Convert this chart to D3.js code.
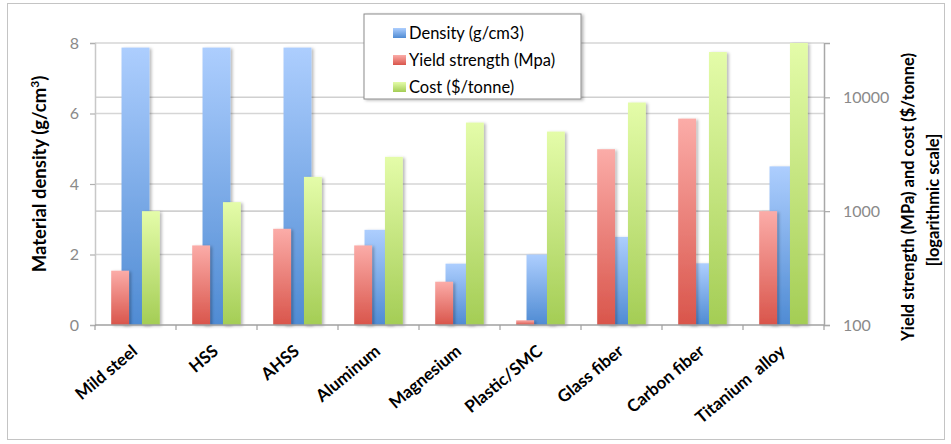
<!DOCTYPE html>
<html>
<head>
<meta charset="utf-8">
<script src="https://cdn.jsdelivr.net/npm/d3@7"></script>
<style>
  body { margin: 0; background: #fff; }
  svg { display: block; font-family: Lato, "Open Sans", sans-serif; }
</style>
</head>
<body>
<svg id="chart" width="951" height="444"></svg>
<script>
// data
const categories = ['Mild steel', 'HSS', 'AHSS', 'Aluminum', 'Magnesium', 'Plastic/SMC', 'Glass fiber', 'Carbon fiber', 'Titanium  alloy'];
const density = [7.87, 7.87, 7.87, 2.7, 1.74, 2.0, 2.5, 1.75, 4.5];
const yieldStrength = [300, 500, 700, 500, 240, 110, 3500, 6500, 1000];
const cost = [1000, 1200, 2000, 3000, 6000, 5000, 9000, 25000, 30000];
const densityTicks = [0, 2, 4, 6, 8];
const logTicks = [100, 1000, 10000];
const legendLabels = ['Density (g/cm3)', 'Yield strength (Mpa)', 'Cost ($/tonne)'];

// layout
const margins = { left: 95, right: 127, top: 43, bottom: 119 };
const width = 951, height = 444;
const plotBottom = height - margins.bottom;
const plotRight = width - margins.right;

const svg = d3.select('#chart');
const defs = svg.append('defs');

// gradients for the three series
const gradients = [
    { id: 'grad-blue', top: '#adcefe', bottom: '#4f8bd3' },
    { id: 'grad-red', top: '#fbaca8', bottom: '#d9554b' },
    { id: 'grad-green', top: '#e4fca9', bottom: '#a4cd55' }
];
gradients.forEach(g => {
    const lg = defs.append('linearGradient')
        .attr('id', g.id)
        .attr('x1', 0).attr('y1', 0).attr('x2', 0).attr('y2', 1);
    lg.append('stop').attr('offset', '0%').attr('stop-color', g.top);
    lg.append('stop').attr('offset', '100%').attr('stop-color', g.bottom);
});

const shadow = defs.append('filter').attr('id', 'shadow')
    .attr('x', '-20%').attr('y', '-5%').attr('width', '150%').attr('height', '115%');
shadow.append('feDropShadow')
    .attr('dx', 2).attr('dy', 1).attr('stdDeviation', 1.4)
    .attr('flood-color', '#000').attr('flood-opacity', 0.28);

// outer chart border
svg.append('rect')
    .attr('x', 7.5).attr('y', 3.5)
    .attr('width', 937).attr('height', 436)
    .attr('fill', 'none')
    .attr('stroke', '#c4c4c4');

// scales
const x = d3.scaleBand()
    .domain(categories)
    .range([margins.left, plotRight])
    .padding(0);

const yLeft = d3.scaleLinear()
    .domain([0, 8])
    .range([plotBottom, margins.top]);

const yRight = d3.scaleLog()
    .domain([100, 30000])
    .range([plotBottom, margins.top]);

// secondary series sit left/right of the category centre
const xSec = d3.scaleBand()
    .domain(['yield', 'cost'])
    .range([x.bandwidth() * 0.2, x.bandwidth() * 0.8])
    .paddingInner(0.42);

const densityWidth = x.bandwidth() * 0.345;

// gridlines
const grid = svg.append('g').attr('class', 'grid');
grid.selectAll('.grid-left')
    .data(densityTicks.filter(d => d > 0))
    .join('line')
    .attr('x1', margins.left).attr('x2', plotRight)
    .attr('y1', d => yLeft(d)).attr('y2', d => yLeft(d))
    .attr('stroke', '#d6d6d6').attr('stroke-width', 1.6);
grid.selectAll('.grid-right')
    .data(logTicks.filter(d => d > 100))
    .join('line')
    .attr('x1', margins.left).attr('x2', plotRight)
    .attr('y1', d => yRight(d)).attr('y2', d => yRight(d))
    .attr('stroke', '#d0d0d0').attr('stroke-width', 1.6);

// density bars (primary axis)
svg.append('g')
    .selectAll('rect')
    .data(density)
    .join('rect')
    .attr('x', (d, i) => x(categories[i]) + (x.bandwidth() - densityWidth) / 2)
    .attr('width', densityWidth)
    .attr('y', d => yLeft(d))
    .attr('height', d => plotBottom - yLeft(d))
    .attr('fill', 'url(#grad-blue)')
    .attr('filter', 'url(#shadow)');

// yield strength and cost bars (secondary log axis)
const secondary = [
    { key: 'yield', values: yieldStrength, fill: 'url(#grad-red)' },
    { key: 'cost', values: cost, fill: 'url(#grad-green)' }
];
secondary.forEach(s => {
    svg.append('g')
        .selectAll('rect')
        .data(s.values)
        .join('rect')
        .attr('x', (d, i) => x(categories[i]) + xSec(s.key))
        .attr('width', xSec.bandwidth())
        .attr('y', d => yRight(d))
        .attr('height', d => plotBottom - yRight(d))
        .attr('fill', s.fill)
        .attr('filter', 'url(#shadow)');
});

// left axis
const leftAxis = svg.append('g')
    .attr('transform', `translate(${margins.left}, 0)`)
    .call(d3.axisLeft(yLeft).tickValues(densityTicks).tickSize(5).tickPadding(11));
leftAxis.select('.domain').attr('stroke', '#c8c8c8').attr('stroke-width', 1.5);
leftAxis.selectAll('.tick line').attr('stroke', '#b0b0b0').attr('stroke-width', 1.2);
leftAxis.selectAll('.tick text')
    .attr('fill', '#8a8a8a')
    .attr('font-size', 16)
    .attr('font-family', 'Lato, sans-serif');

// right axis
const rightAxis = svg.append('g')
    .attr('transform', `translate(${plotRight}, 0)`)
    .call(d3.axisRight(yRight).tickValues(logTicks).tickFormat(d3.format('d')).tickSize(6).tickPadding(13));
rightAxis.select('.domain').attr('stroke', '#a8a8a8').attr('stroke-width', 1.5);
rightAxis.selectAll('.tick line').attr('stroke', '#a8a8a8').attr('stroke-width', 1.2);
rightAxis.selectAll('.tick text')
    .attr('fill', '#8a8a8a')
    .attr('font-size', 16)
    .attr('font-family', 'Lato, sans-serif');

// bottom axis with ticks at category boundaries
const bottom = svg.append('g');
bottom.append('line')
    .attr('x1', margins.left).attr('x2', plotRight)
    .attr('y1', plotBottom).attr('y2', plotBottom)
    .attr('stroke', '#a0a0a0').attr('stroke-width', 1.6);
bottom.selectAll('.cat-tick')
    .data(categories)
    .join('line')
    .attr('x1', d => x(d)).attr('x2', d => x(d))
    .attr('y1', plotBottom).attr('y2', plotBottom + 5)
    .attr('stroke', '#a0a0a0').attr('stroke-width', 1.2);
bottom.append('line')
    .attr('x1', plotRight).attr('x2', plotRight)
    .attr('y1', plotBottom).attr('y2', plotBottom + 5)
    .attr('stroke', '#a0a0a0').attr('stroke-width', 1.2);
bottom.selectAll('.cat-label')
    .data(categories)
    .join('text')
    .attr('transform', d => `translate(${x(d) + x.bandwidth() / 2 + 3}, ${plotBottom + 28})rotate(-40)`)
    .attr('text-anchor', 'end')
    .attr('font-size', 17)
    .attr('font-weight', 'bold')
    .attr('fill', '#000')
    .style('white-space', 'pre')
    .text(d => d);

// axis titles
const leftTitle = svg.append('text')
    .attr('transform', `translate(46, ${(margins.top + plotBottom) / 2 - 10})rotate(-90)`)
    .attr('text-anchor', 'middle')
    .attr('font-size', 18.5)
    .attr('font-weight', 'bold');
leftTitle.append('tspan').text('Material density (g/cm');
leftTitle.append('tspan').attr('font-size', 12).attr('dy', -7).text('3');
leftTitle.append('tspan').attr('dy', 7).text(')');

svg.append('text')
    .attr('transform', `translate(914, 197)rotate(-90)`)
    .attr('text-anchor', 'middle')
    .attr('font-size', 16.5)
    .attr('font-weight', 'bold')
    .text('Yield strength (MPa) and cost ($/tonne)');
svg.append('text')
    .attr('transform', `translate(939, 200)rotate(-90)`)
    .attr('text-anchor', 'middle')
    .attr('font-size', 16.5)
    .attr('font-weight', 'bold')
    .text('[logarithmic scale]');

// legend
const legend = svg.append('g').attr('transform', 'translate(364, 14)');
legend.append('rect')
    .attr('width', 217).attr('height', 85)
    .attr('fill', '#fff')
    .attr('stroke', '#8c8c8c')
    .attr('filter', 'url(#shadow)');
const legendRows = legend.selectAll('.legend-row')
    .data(legendLabels)
    .join('g')
    .attr('transform', (d, i) => `translate(0, ${19 + i * 27})`);
legendRows.append('rect')
    .attr('x', 29).attr('y', -5)
    .attr('width', 13).attr('height', 10)
    .attr('fill', (d, i) => `url(#${gradients[i].id})`);
legendRows.append('text')
    .attr('x', 45).attr('y', 6)
    .attr('font-size', 16.5)
    .attr('fill', '#000')
    .text(d => d);
</script>
</body>
</html>
